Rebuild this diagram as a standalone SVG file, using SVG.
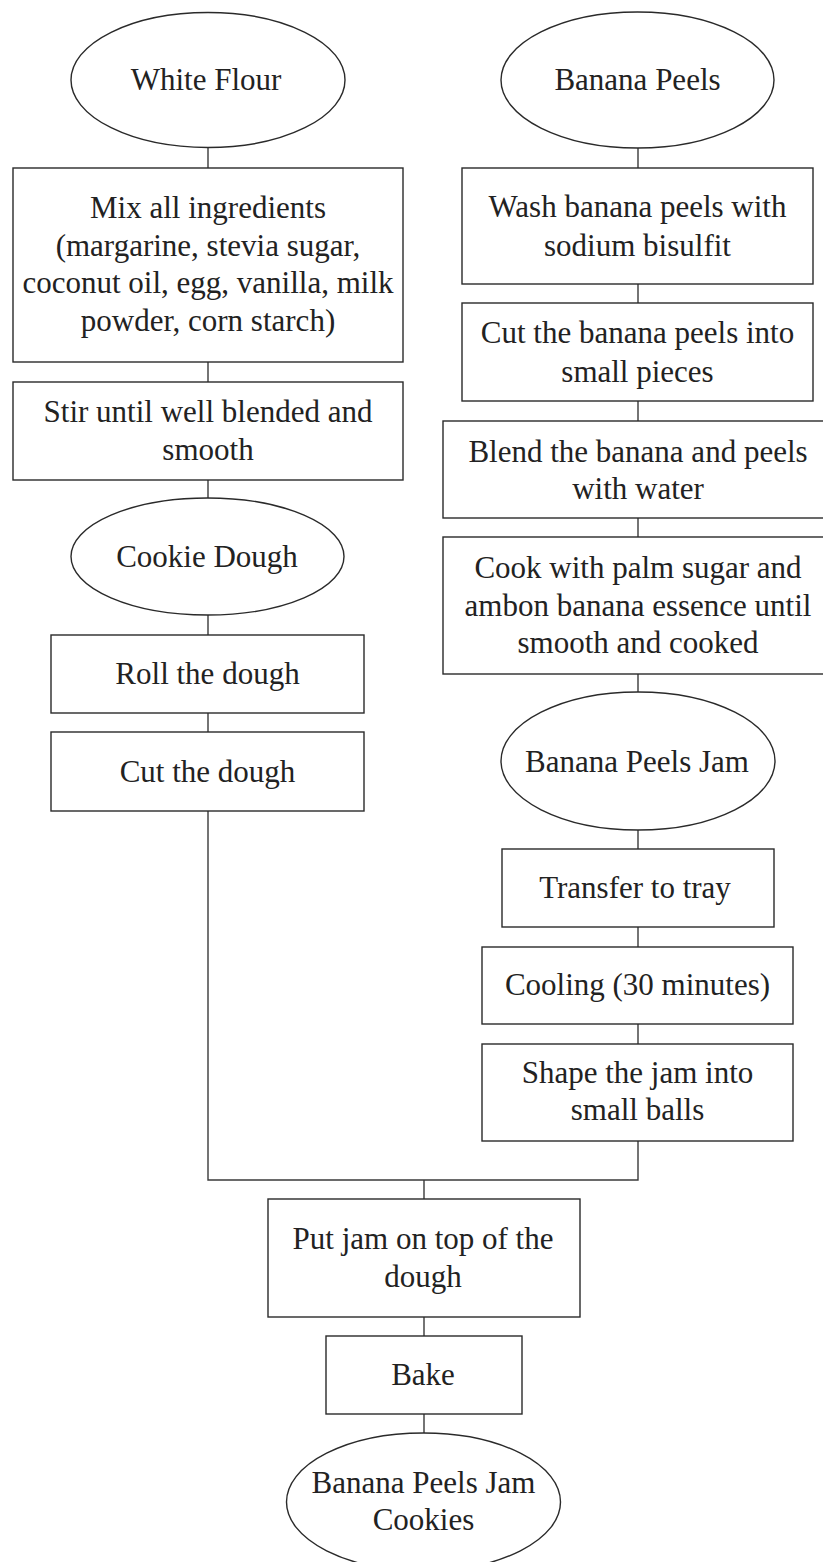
<svg xmlns="http://www.w3.org/2000/svg" width="823" height="1562" viewBox="0 0 823 1562">
<style>
.shape{fill:#fff;stroke:#2a2a2a;stroke-width:1.4}
.conn{fill:none;stroke:#3a3a3a;stroke-width:1.4}
text{font-family:"Liberation Serif","Times New Roman",serif;font-size:31px;fill:#222;text-anchor:middle}
</style>
<rect width="823" height="1562" fill="#fff"/>
<g id="connectors">
<line class="conn" x1="208" y1="148" x2="208" y2="168"/>
<line class="conn" x1="208" y1="362" x2="208" y2="382"/>
<line class="conn" x1="208" y1="480" x2="208" y2="498"/>
<line class="conn" x1="208" y1="615" x2="208" y2="635"/>
<line class="conn" x1="208" y1="713" x2="208" y2="732"/>
<path class="conn" d="M208,811 V1180 H638 V1141"/>
<line class="conn" x1="424" y1="1180" x2="424" y2="1199"/>
<line class="conn" x1="424" y1="1317" x2="424" y2="1336"/>
<line class="conn" x1="424" y1="1414" x2="424" y2="1433"/>
<line class="conn" x1="638" y1="148" x2="638" y2="168"/>
<line class="conn" x1="638" y1="284" x2="638" y2="303"/>
<line class="conn" x1="638" y1="401" x2="638" y2="421"/>
<line class="conn" x1="638" y1="518" x2="638" y2="537"/>
<line class="conn" x1="638" y1="674" x2="638" y2="692"/>
<line class="conn" x1="638" y1="830" x2="638" y2="849"/>
<line class="conn" x1="638" y1="927" x2="638" y2="947"/>
<line class="conn" x1="638" y1="1024" x2="638" y2="1044"/>
</g>
<g id="white-flour"><ellipse class="shape" cx="208" cy="80" rx="137" ry="67.5"/><text x="206" y="90">White Flour</text></g>
<g id="mix"><rect class="shape" x="13" y="168" width="390" height="194"/><text x="208" y="218">Mix all ingredients</text><text x="208" y="255.5">(margarine, stevia sugar,</text><text x="208" y="293">coconut oil, egg, vanilla, milk</text><text x="208" y="330.5">powder, corn starch)</text></g>
<g id="stir"><rect class="shape" x="13" y="382" width="390" height="98"/><text x="208" y="421.5">Stir until well blended and</text><text x="208" y="459.5">smooth</text></g>
<g id="cookie-dough"><ellipse class="shape" cx="207.5" cy="556.5" rx="136.5" ry="58.5"/><text x="207" y="567">Cookie Dough</text></g>
<g id="roll"><rect class="shape" x="51" y="635" width="313" height="78"/><text x="207.5" y="684">Roll the dough</text></g>
<g id="cut-dough"><rect class="shape" x="51" y="732" width="313" height="79"/><text x="207.5" y="781.5">Cut the dough</text></g>
<g id="banana-peels"><ellipse class="shape" cx="637.5" cy="80" rx="136.5" ry="68"/><text x="637.5" y="90">Banana Peels</text></g>
<g id="wash"><rect class="shape" x="462" y="168" width="351" height="116"/><text x="637.5" y="216.5">Wash banana peels with</text><text x="637.5" y="255.5">sodium bisulfit</text></g>
<g id="cut-peels"><rect class="shape" x="462" y="303" width="351" height="98"/><text x="637.5" y="343">Cut the banana peels into</text><text x="637.5" y="381.5">small pieces</text></g>
<g id="blend"><rect class="shape" x="443" y="421" width="390" height="97"/><text x="638" y="461.5">Blend the banana and peels</text><text x="638" y="498.5">with water</text></g>
<g id="cook"><rect class="shape" x="443" y="537" width="390" height="137"/><text x="638" y="578">Cook with palm sugar and</text><text x="638" y="615.5">ambon banana essence until</text><text x="638" y="652.5">smooth and cooked</text></g>
<g id="banana-peels-jam"><ellipse class="shape" cx="638" cy="761" rx="137" ry="69"/><text x="637" y="771.5">Banana Peels Jam</text></g>
<g id="transfer"><rect class="shape" x="502" y="849" width="272" height="78"/><text x="635" y="898">Transfer to tray</text></g>
<g id="cooling"><rect class="shape" x="482" y="947" width="311" height="77"/><text x="637.5" y="995">Cooling (30 minutes)</text></g>
<g id="shape-jam"><rect class="shape" x="482" y="1044" width="311" height="97"/><text x="637.5" y="1083">Shape the jam into</text><text x="637.5" y="1120">small balls</text></g>
<g id="put-jam"><rect class="shape" x="268" y="1199" width="312" height="118"/><text x="423" y="1249">Put jam on top of the</text><text x="423" y="1287">dough</text></g>
<g id="bake"><rect class="shape" x="326" y="1336" width="196" height="78"/><text x="423" y="1385">Bake</text></g>
<g id="cookies"><ellipse class="shape" cx="423.5" cy="1502" rx="137" ry="69"/><text x="423.5" y="1493">Banana Peels Jam</text><text x="423.5" y="1530">Cookies</text></g>
</svg>
